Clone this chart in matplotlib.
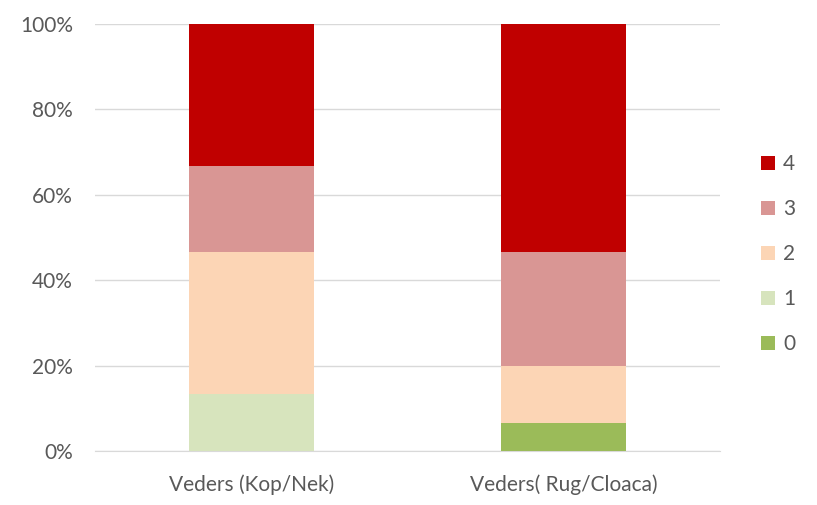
import matplotlib
matplotlib.use("Agg")
import matplotlib.pyplot as plt
import numpy as np

categories = ["Veders (Kop/Nek)", "Veders( Rug/Cloaca)"]
levels = ["0", "1", "2", "3", "4"]
values = {
    "0": [0.0, 6.67],
    "1": [13.33, 0.0],
    "2": [33.33, 13.33],
    "3": [20.0, 26.67],
    "4": [33.33, 53.33],
}
colors = {"0": "#9BBB59", "1": "#D7E4BD", "2": "#FCD5B5", "3": "#D99694", "4": "#C00000"}
yticks = [0, 20, 40, 60, 80, 100]

plt.rcParams['font.family'] = ['Lato', 'DejaVu Sans']
fig = plt.figure(figsize=(8.17, 5.05), dpi=100)
ax = fig.add_axes([95/817, 1-451/505, 625/817, 427/505])
x = np.arange(len(categories))
bottom = np.zeros(len(categories))
handles = {}
for lv in levels:
    v = np.array(values[lv])
    h = ax.bar(x, v, 0.4, bottom=bottom, color=colors[lv], label=lv, zorder=3)
    handles[lv] = h
    bottom += v
ax.set_xlim(-0.5, 1.5)
ax.set_ylim(0, 100)
ax.set_yticks(yticks)
ax.set_yticklabels([f"{t}%" for t in yticks])
ax.set_xticks(x)
ax.set_xticklabels(categories)
ax.grid(axis='y', color='#D9D9D9', linewidth=1, zorder=0)
for s in ['top', 'right', 'left']:
    ax.spines[s].set_visible(False)
ax.spines['bottom'].set_color('#D9D9D9')
ax.tick_params(axis='both', length=0, labelsize=15, labelcolor='#595959')
ax.tick_params(axis='y', pad=16)
ax.tick_params(axis='x', pad=17)
leg = fig.legend([handles[l] for l in levels[::-1]], levels[::-1], loc='center left',
                 bbox_to_anchor=(761/817, 1-254/505), frameon=False, fontsize=15,
                 handlelength=0.65, handleheight=0.65, labelspacing=1.2, handletextpad=0.4,
                 borderaxespad=0, borderpad=0, labelcolor='#595959')
fig.savefig("out.png", dpi=100)
